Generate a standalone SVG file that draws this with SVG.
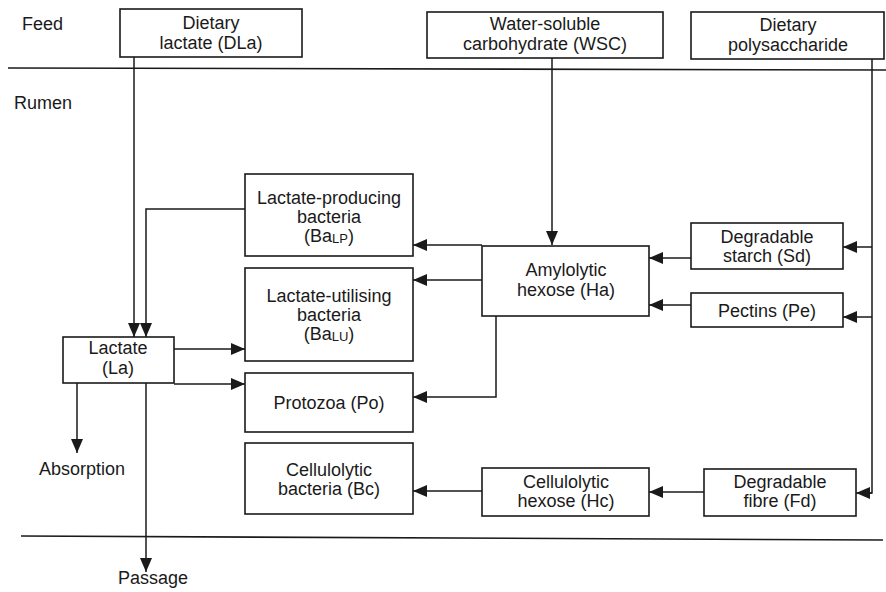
<svg xmlns="http://www.w3.org/2000/svg" width="886" height="592" viewBox="0 0 886 592">
<defs>
<marker id="ah" markerUnits="userSpaceOnUse" markerWidth="14" markerHeight="12" viewBox="0 0 14 12" refX="14" refY="6" orient="auto">
<path d="M0,0 L14,6 L0,12 Z" fill="#1a1a1a"/>
</marker>
</defs>
<style>
rect{fill:#fff;stroke:#1a1a1a;stroke-width:1.6}
text{font-family:"Liberation Sans",Arial,sans-serif;font-size:18px;fill:#1a1a1a;text-anchor:middle}
.l{text-anchor:start}
.sub{font-size:13px}
#connectors path{fill:none;stroke:#1a1a1a;stroke-width:1.5}
.arr{marker-end:url(#ah)}
.sep{fill:none;stroke:#1a1a1a;stroke-width:1.6}
</style>
<rect x="0" y="0" width="886" height="592" style="stroke:none;fill:#fff"/>
<path class="sep" d="M8,68 L886,70"/>
<path class="sep" d="M21,536 L883,540"/>
<text class="l" x="22" y="30">Feed</text>
<text class="l" x="14" y="109">Rumen</text>
<g id="connectors">
<path class="arr" d="M134,57 V337"/>
<path class="arr" d="M245,209 H146 V337"/>
<path class="arr" d="M552,58 V245"/>
<path d="M872,59 V493 L868,493"/>
<path class="arr" d="M872,493 H856"/>
<path class="arr" d="M872,247 H843"/>
<path class="arr" d="M872,317 H843"/>
<path class="arr" d="M691,258 H649"/>
<path class="arr" d="M691,305 H649"/>
<path class="arr" d="M482,245 H413"/>
<path class="arr" d="M482,280 H413"/>
<path class="arr" d="M496,316 V397 H413"/>
<path class="arr" d="M174,349 H245"/>
<path class="arr" d="M174,384 H245"/>
<path class="arr" d="M77,383 V453"/>
<path class="arr" d="M146,383 V572"/>
<path class="arr" d="M704,492 H649"/>
<path class="arr" d="M482,491 H413"/>
</g>
<g id="DLa"><rect x="120" y="9" width="182" height="48"/><text x="211" y="29">Dietary</text><text x="211" y="49">lactate (DLa)</text></g>
<g id="WSC"><rect x="427" y="12" width="236" height="46"/><text x="545" y="30">Water-soluble</text><text x="545" y="50">carbohydrate (WSC)</text></g>
<g id="DP"><rect x="691" y="12" width="193" height="47"/><text x="788" y="31">Dietary</text><text x="788" y="51">polysaccharide</text></g>
<g id="BaLP"><rect x="245" y="174" width="168" height="82"/><text x="329" y="204">Lactate-producing</text><text x="329" y="223">bacteria</text><text x="329" y="242">(Ba<tspan class="sub" dy="1">LP</tspan><tspan dy="-1">)</tspan></text></g>
<g id="BaLU"><rect x="245" y="268" width="168" height="93"/><text x="329" y="302">Lactate-utilising</text><text x="329" y="321">bacteria</text><text x="329" y="340">(Ba<tspan class="sub" dy="1">LU</tspan><tspan dy="-1">)</tspan></text></g>
<g id="Po"><rect x="245" y="373" width="168" height="59"/><text x="329" y="409">Protozoa (Po)</text></g>
<g id="Bc"><rect x="245" y="443" width="168" height="71"/><text x="329" y="476">Cellulolytic</text><text x="329" y="495">bacteria (Bc)</text></g>
<g id="La"><rect x="63" y="337" width="111" height="46"/><text x="118" y="354">Lactate</text><text x="118" y="374">(La)</text></g>
<g id="Ha"><rect x="482" y="246" width="167" height="70"/><text x="566" y="276">Amylolytic</text><text x="566" y="296">hexose (Ha)</text></g>
<g id="Sd"><rect x="691" y="223" width="152" height="46"/><text x="767" y="243">Degradable</text><text x="767" y="262">starch (Sd)</text></g>
<g id="Pe"><rect x="691" y="293" width="152" height="34"/><text x="767" y="317">Pectins (Pe)</text></g>
<g id="Hc"><rect x="482" y="468" width="167" height="48"/><text x="566" y="488">Cellulolytic</text><text x="566" y="507">hexose (Hc)</text></g>
<g id="Fd"><rect x="704" y="469" width="152" height="47"/><text x="780" y="488">Degradable</text><text x="780" y="507">fibre (Fd)</text></g>
<g id="Abs"><text x="82" y="475">Absorption</text></g>
<g id="Pas"><text x="153" y="584">Passage</text></g>
</svg>
